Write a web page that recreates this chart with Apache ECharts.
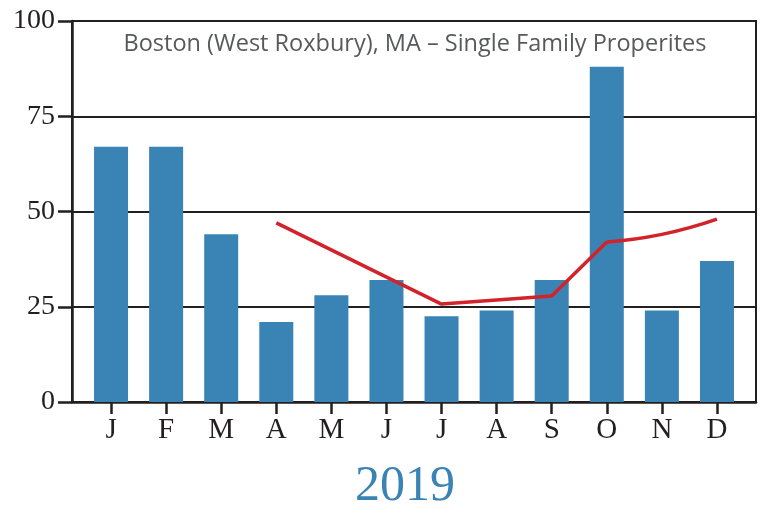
<!DOCTYPE html>
<html>
<head>
<meta charset="utf-8">
<script src="https://cdn.jsdelivr.net/npm/echarts@6/dist/echarts.min.js"></script>
<style>
  html, body { margin: 0; padding: 0; background: #fff; }
  #chart { width: 766px; height: 514px; }
</style>
</head>
<body>
<div id="chart"></div>
<script>
const months = ['J', 'F', 'M', 'A', 'M', 'J', 'J', 'A', 'S', 'O', 'N', 'D']
const sales = [67, 67, 44, 21, 28, 32, 22.5, 24, 32, 88, 24, 37]
// red trend: straight part A..O, curved part O..D
const trendStraight = [null, null, null, 47, null, null, 25.7, null, 27.8, 42, null, null]
const trendCurve = [null, null, null, null, null, null, null, null, null, 42, 44, 48]
const yTicks = [0, 25, 50, 75, 100]

const titleText = 'Boston (West Roxbury), MA – Single Family Properites'
const yearText = '2019'

const ink = '#231f20'
const serif = '"Liberation Serif", "DejaVu Serif", serif'

const chart = echarts.init(document.getElementById('chart'))
chart.setOption({
  animation: false,
  backgroundColor: '#fff',
  title: {
    text: titleText,
    left: 410,
    top: 27,
    textAlign: 'center',
    textStyle: {
      fontFamily: '"Open Sans", sans-serif',
      fontWeight: 'normal',
      fontSize: 23.5,
      color: '#58595b'
    }
  },
  graphic: [{
    type: 'text',
    left: 355,
    top: 462,
    style: {
      text: yearText,
      font: '50px ' + serif,
      fill: '#3a83b5'
    }
  }],
  grid: [
    { left: 72, right: 10, top: 21, bottom: 112, show: true, borderColor: ink, borderWidth: 2 },
    { left: 83.5, right: 21.5, top: 21, bottom: 112 }
  ],
  xAxis: [
    {
      gridIndex: 0,
      type: 'value',
      min: 0,
      max: 1,
      axisLine: { show: true, lineStyle: { color: ink, width: 2.5 } },
      axisTick: { show: false },
      axisLabel: { show: false },
      splitLine: { show: false }
    },
    {
      gridIndex: 1,
      type: 'category',
      data: months,
      axisLine: { show: false },
      axisTick: { show: true, alignWithLabel: true, length: 12, lineStyle: { color: ink, width: 2.5 } },
      axisLabel: { margin: 14, fontFamily: serif, fontSize: 29, color: ink }
    }
  ],
  yAxis: [
    {
      gridIndex: 0,
      type: 'value',
      min: yTicks[0],
      max: yTicks[yTicks.length - 1],
      interval: 25,
      axisLine: { show: true, lineStyle: { color: ink, width: 2.5 } },
      axisTick: { show: true, length: 14, lineStyle: { color: ink, width: 2.5 } },
      axisLabel: { margin: 17, fontFamily: serif, fontSize: 28, color: ink },
      splitLine: { show: true, lineStyle: { color: ink, width: 2 } }
    },
    {
      gridIndex: 1,
      type: 'value',
      min: yTicks[0],
      max: yTicks[yTicks.length - 1],
      show: false
    }
  ],
  series: [
    {
      type: 'bar',
      xAxisIndex: 1,
      yAxisIndex: 1,
      data: sales,
      barWidth: 34,
      itemStyle: { color: '#3a83b5' }
    },
    {
      type: 'line',
      xAxisIndex: 1,
      yAxisIndex: 1,
      data: trendStraight,
      connectNulls: true,
      symbol: 'none',
      lineStyle: { color: '#d2232a', width: 3.5 }
    },
    {
      type: 'line',
      xAxisIndex: 1,
      yAxisIndex: 1,
      data: trendCurve,
      smooth: 0.5,
      symbol: 'none',
      lineStyle: { color: '#d2232a', width: 3.5 }
    }
  ]
})
</script>
</body>
</html>
